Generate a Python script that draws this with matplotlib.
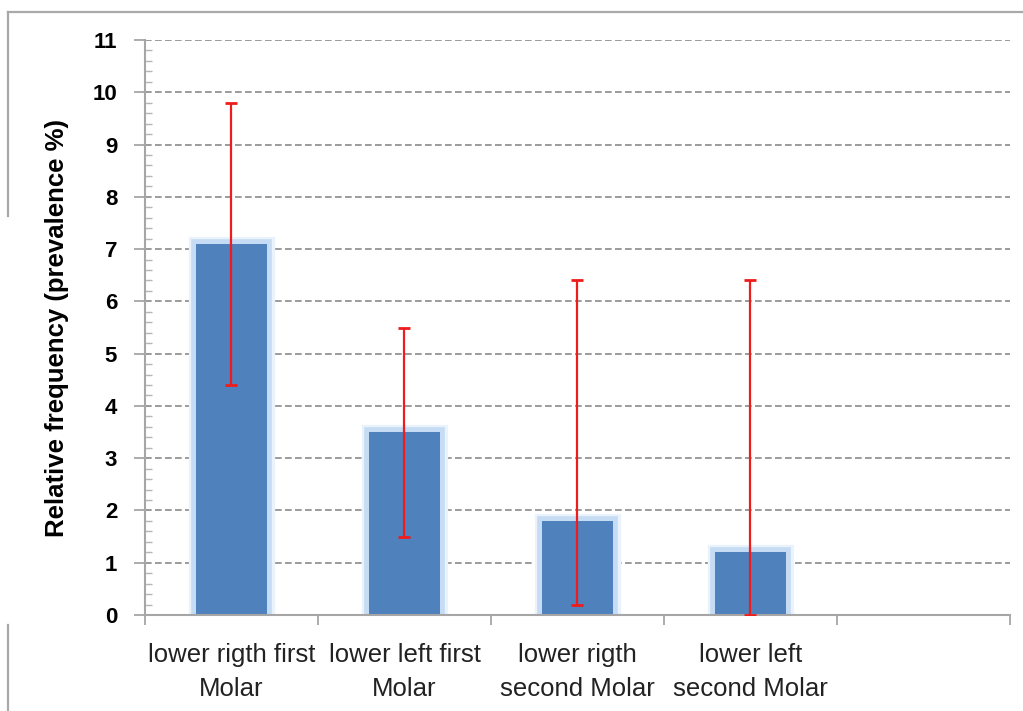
"""
Relative frequency of affected lower molars, bars with error bars
"""
import matplotlib
matplotlib.use('Agg')
import matplotlib.pyplot as plt
import matplotlib.patheffects as pe
from matplotlib.lines import Line2D
from matplotlib.ticker import MultipleLocator
import numpy as np

# data
categories = ['lower rigth first\nMolar', 'lower left first\nMolar',
              'lower rigth\nsecond Molar', 'lower left\nsecond Molar']
prevalence = [7.1, 3.5, 1.8, 1.2]
err_upper = [9.8, 5.5, 6.4, 6.4]   # top end of each error bar
err_lower = [4.4, 1.5, 0.2, 0.0]   # bottom end of each error bar
n_slots = 5                        # the axis keeps one empty slot on the right

plt.rcParams['font.family'] = ['Liberation Sans', 'DejaVu Sans']

fig = plt.figure(figsize=(10.23, 7.11), dpi=100)
ax = fig.add_axes([0.1417, 0.135, 0.8456, 0.8087])

x = np.arange(len(categories))
vals = np.array(prevalence)
yerr = np.vstack([vals - np.array(err_lower), np.array(err_upper) - vals])

# horizontal dashed grid behind everything
for yv in range(1, 12):
    ax.axhline(yv, color='#8a8a8a', lw=1.2, ls=(0, (4.0, 2.0)), zorder=0)

bars = ax.bar(x, vals, width=0.41, color='#4F81BD', zorder=2)
for b in bars:
    b.set_path_effects([
        pe.Stroke(linewidth=11, foreground='#eaf2fc'),
        pe.Stroke(linewidth=7, foreground='#c6dcf5'),
        pe.Normal(),
    ])

ax.errorbar(x, vals, yerr=yerr, fmt='none', ecolor='#ee1c1c', elinewidth=1.6,
            capsize=4, capthick=2, zorder=3)

ax.set_xlim(-0.5, n_slots - 0.5)
ax.set_ylim(0, 11)

# category boundaries carry the x ticks, labels sit between them
ax.set_xticks(np.arange(n_slots + 1) - 0.5)
ax.set_xticklabels([])
ax.set_xticks(x, minor=True)
ax.set_xticklabels(categories, minor=True, fontsize=18.5, color='#222222',
                   linespacing=1.55)
ax.tick_params(axis='x', which='major', direction='out', length=7, width=1.3,
               color='#a6a6a6')
ax.tick_params(axis='x', which='minor', length=0, pad=20)

ax.yaxis.set_major_locator(MultipleLocator(1))
ax.yaxis.set_minor_locator(MultipleLocator(0.2))
ax.tick_params(axis='y', which='major', direction='out', length=8, width=1.3,
               color='#a6a6a6', pad=12)
ax.tick_params(axis='y', which='minor', direction='in', length=5, width=1.0,
               color='#b5b5b5')
for lab in ax.get_yticklabels():
    lab.set_fontweight('bold')
    lab.set_fontsize(16)

ax.set_ylabel('Relative frequency (prevalence %)', fontweight='bold',
              fontsize=18.5, labelpad=17)

for side in ['top', 'right']:
    ax.spines[side].set_visible(False)
for side in ['left', 'bottom']:
    ax.spines[side].set_color('#a6a6a6')
    ax.spines[side].set_linewidth(1.5)

# outer frame pieces
frame = dict(color='#a9a9a9', lw=1.6, transform=fig.transFigure)
fig.add_artist(Line2D([0.0078, 1.0], [0.9831, 0.9831], **frame))
fig.add_artist(Line2D([0.0078, 0.0078], [0.9831, 0.696], **frame))
fig.add_artist(Line2D([0.0078, 0.0078], [0.121, 0.0], **frame))

plt.savefig('out.png', dpi=100)
plt.close()
